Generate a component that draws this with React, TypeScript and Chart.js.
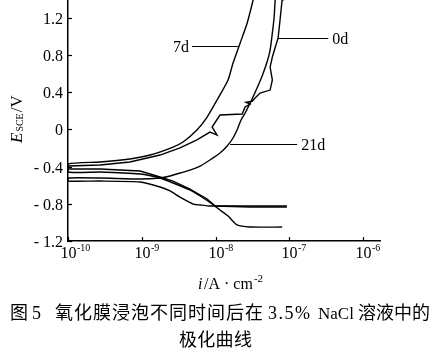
import React, { useEffect, useRef } from 'react';
import { Chart, registerables } from 'chart.js';

Chart.register(...registerables);

// ---- axes ----
const yTicks = [-1.2, -0.8, -0.4, 0, 0.4, 0.8, 1.2];
const yTickLabels = ['- 1.2', '- 0.8', '- 0.4', '0', '0.4', '0.8', '1.2'];
const xTicks = [1e-10, 1e-9, 1e-8, 1e-7, 1e-6];
const xTickExponents = ['-10', '-9', '-8', '-7', '-6'];
const xMin = 1e-10;
const xMax = 1.7e-6;
const yMin = -1.2;
const yMax = 1.388;

// ---- curves: current density (A/cm2) and potential (V vs SCE) ----
const current0d = [9.3e-8, 2.95e-8, 9.9e-9, 7.7e-9, 4.5e-9, 2.66e-9, 1.77e-9, 9.5e-10, 2.72e-10, 1e-10,
  1e-10, 2.72e-10, 6.9e-10, 1.77e-9, 3.3e-9, 5.6e-9, 8.4e-9, 1.05e-8, 9.0e-9, 1.15e-8,
  2.3e-8, 2.52e-8, 2.95e-8, 2.6e-8, 3.15e-8, 3.44e-8, 4.03e-8, 5.5e-8, 5.9e-8, 5.5e-8,
  5.9e-8, 6.6e-8, 7.06e-8, 7.5e-8, 8.0e-8, 8.2e-8];
const potential0d = [-0.835, -0.835, -0.824, -0.749, -0.642, -0.556, -0.513, -0.448, -0.427, -0.427,
  -0.395, -0.384, -0.352, -0.277, -0.201, -0.115, -0.030, -0.062, 0.024, 0.153,
  0.164, 0.239, 0.271, 0.29, 0.30, 0.336, 0.389, 0.421, 0.529, 0.668,
  0.776, 0.905, 0.980, 1.173, 1.388, 1.47];

const current7d = [8.0e-8, 2.95e-8, 1.96e-8, 1.48e-8, 1.15e-8, 9.0e-9, 6.2e-9, 4.5e-9, 2.66e-9, 1.77e-9, 9.5e-10, 2.72e-10, 1e-10,
  1e-10, 2.72e-10, 6.9e-10, 1.3e-9, 2.66e-9, 3.63e-9, 5.6e-9, 7.7e-9, 1.05e-8, 1.48e-8, 1.73e-8, 2.16e-8, 2.69e-8, 3.24e-8, 3.44e-8];
const potential7d = [-1.050, -1.050, -1.028, -0.932, -0.867, -0.803, -0.717, -0.652, -0.577, -0.524, -0.481, -0.459, -0.459,
  -0.373, -0.352, -0.319, -0.277, -0.191, -0.137, -0.008, 0.131, 0.314, 0.529, 0.711, 0.926, 1.141, 1.388, 1.47];

const current21d = [9.3e-8, 2.95e-8, 8.4e-9, 6.2e-9, 5.0e-9, 3.3e-9, 2.42e-9, 1.77e-9, 9.5e-10, 2.72e-10, 1e-10,
  1e-10, 2.72e-10, 9.5e-10, 1.77e-9, 2.42e-9, 3.3e-9, 4.5e-9, 6.2e-9, 8.4e-9, 1.15e-8,
  1.44e-8, 1.73e-8, 1.96e-8, 2.22e-8, 2.52e-8, 3.04e-8, 3.66e-8, 4.29e-8, 5.0e-8, 5.5e-8,
  5.9e-8, 6.24e-8, 6.44e-8, 6.6e-8];
const potential21d = [-0.824, -0.824, -0.824, -0.813, -0.803, -0.728, -0.663, -0.620, -0.566, -0.556, -0.556,
  -0.524, -0.524, -0.534, -0.524, -0.502, -0.470, -0.438, -0.395, -0.330, -0.255,
  -0.180, -0.094, -0.008, 0.099, 0.174, 0.303, 0.443, 0.572, 0.722, 0.851,
  1.033, 1.205, 1.388, 1.47];

// ---- curve labels with leader lines (data coordinates) ----
const curveLabels = ['7d', '0d', '21d'];
const labelCurrents = [4.8e-9, 3.37e-7, 1.28e-7];
const leaderCurveCurrents = [2.03e-8, 7.06e-8, 1.58e-8];
const labelPotentials = [0.894, 0.980, -0.158];
const labelSides = ['left', 'right', 'right'];

const toPoints = (xs: number[], ys: number[]) => xs.map((x, k) => ({ x, y: ys[k] }));

const SERIF = '"Liberation Serif", "DejaVu Serif", serif';
const CJK = '"Noto Sans CJK SC", sans-serif';

const decor = {
  id: 'decor',
  afterDraw(chart: any) {
    const { ctx, chartArea } = chart;
    const x = chart.scales.x;
    const y = chart.scales.y;
    const left = chartArea.left;
    const bottom = chartArea.bottom;
    ctx.save();
    ctx.fillStyle = '#000';
    ctx.strokeStyle = '#000';
    ctx.lineWidth = 1.2;

    // y ticks and labels
    yTicks.forEach((v, k) => {
      const py = Math.round(y.getPixelForValue(v)) + 0.5;
      ctx.beginPath();
      ctx.moveTo(left, py);
      ctx.lineTo(left + 4, py);
      ctx.stroke();
      ctx.font = '16px ' + SERIF;
      ctx.textAlign = 'right';
      ctx.textBaseline = 'middle';
      ctx.fillText(yTickLabels[k], left - 5, py + 1);
    });

    // x ticks and labels
    xTicks.forEach((v, k) => {
      const px = Math.round(x.getPixelForValue(v)) + 0.5;
      ctx.beginPath();
      ctx.moveTo(px, bottom);
      ctx.lineTo(px, bottom - 4);
      ctx.stroke();
      ctx.font = '16px ' + SERIF;
      ctx.textAlign = 'center';
      ctx.textBaseline = 'alphabetic';
      ctx.fillText('10', px, bottom + 17);
      const w = ctx.measureText('10').width;
      ctx.font = '10px ' + SERIF;
      ctx.textAlign = 'left';
      ctx.fillText(xTickExponents[k], px + w / 2 + 0.5, bottom + 10);
    });

    // y axis title  E_SCE/V
    ctx.save();
    ctx.translate(22, 143);
    ctx.rotate(-Math.PI / 2);
    ctx.textAlign = 'left';
    ctx.textBaseline = 'alphabetic';
    ctx.font = 'italic 17px ' + SERIF;
    ctx.fillText('E', 0, 0);
    let off = ctx.measureText('E').width + 1;
    ctx.font = '10px ' + SERIF;
    ctx.fillText('SCE', off, 1);
    off += ctx.measureText('SCE').width + 1;
    ctx.font = '17px ' + SERIF;
    ctx.fillText('/V', off, 0);
    ctx.restore();

    // x axis title  i/A·cm^-2
    ctx.textAlign = 'left';
    ctx.textBaseline = 'alphabetic';
    ctx.font = 'italic 16px ' + SERIF;
    ctx.fillText('i', 198, 289);
    ctx.font = '16px ' + SERIF;
    ctx.fillText('/A · cm', 204, 289);
    const wt = ctx.measureText('/A · cm').width;
    ctx.font = '11px ' + SERIF;
    ctx.fillText('-2', 204 + wt + 1, 282);

    // curve labels with leaders
    ctx.lineWidth = 1.1;
    curveLabels.forEach((t, k) => {
      const pa = x.getPixelForValue(labelCurrents[k]);
      const pb = x.getPixelForValue(leaderCurveCurrents[k]);
      const py = Math.round(y.getPixelForValue(labelPotentials[k])) + 0.5;
      ctx.beginPath();
      ctx.moveTo(pa, py);
      ctx.lineTo(pb, py);
      ctx.stroke();
      ctx.font = '16px ' + SERIF;
      ctx.textBaseline = 'middle';
      if (labelSides[k] === 'left') {
        ctx.textAlign = 'right';
        ctx.fillText(t, pa - 3, py + 1);
      } else {
        ctx.textAlign = 'left';
        ctx.fillText(t, pa + 4, py + 1);
      }
    });
    ctx.restore();
  },
};

export default function App() {
  const ref = useRef<HTMLCanvasElement | null>(null);

  useEffect(() => {
    if (!ref.current) return;
    const line = (label: string, xs: number[], ys: number[], tension: number) => ({
      label,
      data: toPoints(xs, ys),
      borderColor: '#000',
      backgroundColor: '#000',
      borderWidth: 1.4,
      pointRadius: 0,
      showLine: true,
      tension,
      fill: false,
    });
    const chart = new Chart(ref.current, {
      type: 'scatter',
      data: {
        datasets: [
          line('0d', current0d, potential0d, 0),
          line('7d', current7d, potential7d, 0.2),
          line('21d', current21d, potential21d, 0.2),
        ],
      },
      options: {
        animation: false,
        responsive: false,
        events: [],
        layout: { padding: { left: 0, top: 0, right: 50, bottom: 0 } },
        plugins: { legend: { display: false }, tooltip: { enabled: false }, title: { display: false } },
        scales: {
          x: {
            type: 'logarithmic',
            min: xMin,
            max: xMax,
            ticks: { display: false },
            grid: { display: false },
            border: { display: true, color: '#000', width: 1.5 },
            afterFit: (s: any) => {
              s.height = 59;
              s.paddingLeft = 0;
              s.paddingRight = 0;
              s.paddingTop = 0;
              s.paddingBottom = 0;
            },
          },
          y: {
            type: 'linear',
            min: yMin,
            max: yMax,
            ticks: { display: false },
            grid: { display: false },
            border: { display: true, color: '#000', width: 1.5 },
            afterFit: (s: any) => {
              s.width = 68;
              s.paddingLeft = 0;
              s.paddingRight = 0;
              s.paddingTop = 0;
              s.paddingBottom = 0;
            },
          },
        },
      },
      plugins: [decor],
    } as any);
    return () => chart.destroy();
  }, []);

  const seg = (text: string, width: number, font: string, size: number, spacing = 0) => (
    <span
      style={{
        display: 'inline-block',
        width,
        fontFamily: font,
        fontSize: size,
        letterSpacing: spacing,
        whiteSpace: 'pre',
      }}
    >
      {text}
    </span>
  );

  return (
    <div style={{ position: 'absolute', left: 0, top: 0, width: 430, height: 359, background: '#fff', overflow: 'hidden' }}>
      <canvas ref={ref} width={430} height={300} style={{ position: 'absolute', left: 0, top: 0, width: 430, height: 300 }} />
      <div style={{ position: 'absolute', left: 10, top: 301, lineHeight: '20px', whiteSpace: 'nowrap', color: '#000' }}>
        {seg('图', 22, CJK, 18)}
        {seg('5', 23, SERIF, 18)}
        {seg('氧化膜浸泡不同时间后在', 213, CJK, 18, 1)}
        {seg('3.5%', 50, SERIF, 18, 1.5)}
        {seg('NaCl', 40, SERIF, 17)}
        {seg('溶液中的', 72, CJK, 18)}
      </div>
      <div style={{ position: 'absolute', left: 179, top: 328, lineHeight: '20px', whiteSpace: 'nowrap', color: '#000' }}>
        {seg('极化曲线', 80, CJK, 18, 0.3)}
      </div>
    </div>
  );
}
